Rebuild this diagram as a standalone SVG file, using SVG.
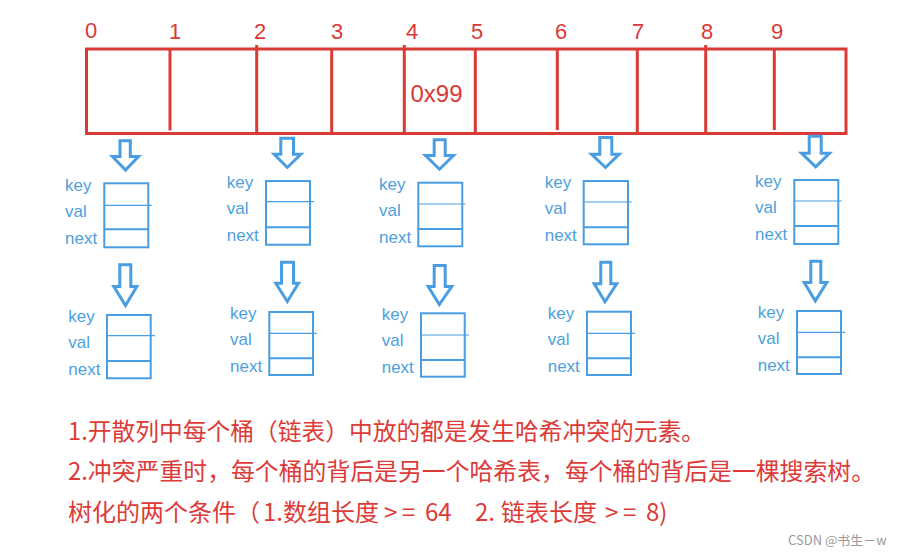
<svg xmlns="http://www.w3.org/2000/svg" width="921" height="557" viewBox="0 0 921 557">
<style>
  .red { fill: none; stroke: #d93a35; stroke-width: 3; }
  .idx { font-family: "Liberation Sans", "Noto Sans", sans-serif; font-size: 22px; fill: #d93a35; }
  .addr { font-family: "Liberation Sans", "Noto Sans", sans-serif; font-size: 24px; fill: #d93a35; }
  .arrow { fill: #fff; stroke: #4a9de0; stroke-width: 3; stroke-linejoin: miter; }
  .box { fill: #fff; stroke: #4a9de0; stroke-width: 2; }
  .thin { stroke: #4a9de0; stroke-width: 1.2; }
  .mid { stroke: #4a9de0; stroke-width: 2; }
  .lbl { font-family: "Liberation Sans", "Noto Sans", sans-serif; font-size: 17px; fill: #4e9fde; }
  .note { font-family: "Noto Sans CJK SC", "Liberation Sans", sans-serif; font-size: 24px; fill: #dc3b38; }
  .wm { font-family: "Noto Sans CJK SC", "Liberation Sans", sans-serif; font-size: 13px; fill: #9a9a9a; }
</style>

<g id="array">
  <rect class="red" x="86.5" y="49" width="759.5" height="84.5"/>
  <line class="red" x1="170" y1="49" x2="170" y2="130.5"/>
  <line class="red" x1="256.7" y1="45" x2="256.7" y2="133.5"/>
  <line class="red" x1="331.7" y1="49" x2="331.7" y2="133.5"/>
  <line class="red" x1="404.3" y1="45" x2="404.3" y2="133.5"/>
  <line class="red" x1="475.3" y1="49" x2="475.3" y2="133.5"/>
  <line class="red" x1="557.3" y1="49" x2="557.3" y2="130"/>
  <line class="red" x1="637.3" y1="49" x2="637.3" y2="133.5"/>
  <line class="red" x1="705.7" y1="45" x2="705.7" y2="133.5"/>
  <line class="red" x1="774.3" y1="49" x2="774.3" y2="130"/>
  <text class="idx" x="85" y="38">0</text>
  <text class="idx" x="169" y="38.5">1</text>
  <text class="idx" x="254" y="38.5">2</text>
  <text class="idx" x="331" y="38.5">3</text>
  <text class="idx" x="406" y="38.5">4</text>
  <text class="idx" x="471" y="38.5">5</text>
  <text class="idx" x="555" y="38.5">6</text>
  <text class="idx" x="632" y="38.5">7</text>
  <text class="idx" x="701" y="38.5">8</text>
  <text class="idx" x="771" y="38.5">9</text>
  <text class="addr" x="410.5" y="101.5">0x99</text>
</g>

<g id="connectors">
  <path class="arrow" d="M120,140.8 H130.3 V156.5 H138.5 L125.5,170 L112.5,156.5 H120 Z"/>
  <path class="arrow" d="M280.8,138.2 H293.5 V154.2 H300.8 L287.3,167.5 L274.2,154.2 H280.8 Z"/>
  <path class="arrow" d="M434.2,139.8 H445.2 V155.5 H453.5 L439.5,169.2 L425.5,155.5 H434.2 Z"/>
  <path class="arrow" d="M599.8,137.5 H611.8 V154.2 H619.2 L605.5,167.5 L591.5,154.2 H599.8 Z"/>
  <path class="arrow" d="M809.2,136.2 H821.2 V153.2 H829.5 L815.7,166.8 L801.5,153.2 H809.2 Z"/>
  <path class="arrow" d="M119.8,264.8 H130.8 V286.5 H136.8 L125.5,305.5 L113.8,286.5 H119.8 Z"/>
  <path class="arrow" d="M281.5,262.2 H293.5 V283.2 H298.5 L287.3,301.5 L275.8,283.2 H281.5 Z"/>
  <path class="arrow" d="M434.2,265.5 H445.2 V286.5 H451.8 L439.3,304.5 L428.2,286.5 H434.2 Z"/>
  <path class="arrow" d="M600.8,262.2 H610.8 V283.8 H616.8 L605,301.8 L594.2,283.8 H600.8 Z"/>
  <path class="arrow" d="M810.8,261.2 H820.8 V282.5 H826.8 L815.3,300.8 L804.2,282.5 H810.8 Z"/>
</g>

<g id="node-0a">
  <rect class="box" x="104.3" y="183.3" width="44" height="64"/>
  <line class="thin" x1="104.3" y1="205.3" x2="151.7" y2="205.3"/>
  <line class="mid" x1="104.3" y1="229.3" x2="148.3" y2="229.3"/>
  <text class="lbl" x="65" y="190.5">key</text>
  <text class="lbl" x="65" y="216.5">val</text>
  <text class="lbl" x="65" y="243.5">next</text>
</g>
<g id="node-2a">
  <rect class="box" x="266" y="181" width="44" height="63.7"/>
  <line class="thin" x1="266" y1="201.7" x2="314" y2="201.7"/>
  <line class="mid" x1="266" y1="227.3" x2="310" y2="227.3"/>
  <text class="lbl" x="226.7" y="188">key</text>
  <text class="lbl" x="226.7" y="214">val</text>
  <text class="lbl" x="226.7" y="241">next</text>
</g>
<g id="node-4a">
  <rect class="box" x="418.3" y="182.7" width="44" height="63.6"/>
  <line class="thin" x1="418.3" y1="204" x2="465.7" y2="204"/>
  <line class="mid" x1="418.3" y1="229" x2="462.3" y2="229"/>
  <text class="lbl" x="379" y="189.7">key</text>
  <text class="lbl" x="379" y="215.7">val</text>
  <text class="lbl" x="379" y="242.7">next</text>
</g>
<g id="node-6a">
  <rect class="box" x="583.7" y="181" width="44.3" height="63.3"/>
  <line class="thin" x1="583.7" y1="202" x2="631.7" y2="202"/>
  <line class="mid" x1="583.7" y1="227.3" x2="628" y2="227.3"/>
  <text class="lbl" x="544.7" y="188">key</text>
  <text class="lbl" x="544.7" y="214">val</text>
  <text class="lbl" x="544.7" y="241">next</text>
</g>
<g id="node-9a">
  <rect class="box" x="794.3" y="180" width="44" height="64"/>
  <line class="thin" x1="794.3" y1="201" x2="841.7" y2="201"/>
  <line class="mid" x1="794.3" y1="226" x2="838.3" y2="226"/>
  <text class="lbl" x="755" y="187">key</text>
  <text class="lbl" x="755" y="213">val</text>
  <text class="lbl" x="755" y="240">next</text>
</g>

<g id="node-0b">
  <rect class="box" x="107" y="315" width="43.7" height="63.3"/>
  <line class="thin" x1="107" y1="335.7" x2="155" y2="335.7"/>
  <line class="mid" x1="107" y1="361" x2="150.7" y2="361"/>
  <text class="lbl" x="68.3" y="322">key</text>
  <text class="lbl" x="68.3" y="348">val</text>
  <text class="lbl" x="68.3" y="375">next</text>
</g>
<g id="node-2b">
  <rect class="box" x="269.3" y="312" width="43.7" height="63"/>
  <line class="thin" x1="269.3" y1="333.3" x2="316.7" y2="333.3"/>
  <line class="mid" x1="269.3" y1="358.3" x2="313" y2="358.3"/>
  <text class="lbl" x="230" y="319">key</text>
  <text class="lbl" x="230" y="345">val</text>
  <text class="lbl" x="230" y="372">next</text>
</g>
<g id="node-4b">
  <rect class="box" x="421" y="313.3" width="43.7" height="63.4"/>
  <line class="thin" x1="421" y1="335" x2="469" y2="335"/>
  <line class="mid" x1="421" y1="360" x2="464.7" y2="360"/>
  <text class="lbl" x="381.7" y="320.3">key</text>
  <text class="lbl" x="381.7" y="346.3">val</text>
  <text class="lbl" x="381.7" y="373.3">next</text>
</g>
<g id="node-6b">
  <rect class="box" x="587" y="311.7" width="44" height="63.3"/>
  <line class="thin" x1="587" y1="333.3" x2="635" y2="333.3"/>
  <line class="mid" x1="587" y1="358.3" x2="631" y2="358.3"/>
  <text class="lbl" x="547.7" y="318.7">key</text>
  <text class="lbl" x="547.7" y="344.7">val</text>
  <text class="lbl" x="547.7" y="371.7">next</text>
</g>
<g id="node-9b">
  <rect class="box" x="797" y="311" width="44" height="63"/>
  <line class="thin" x1="797" y1="332.3" x2="845" y2="332.3"/>
  <line class="mid" x1="797" y1="357.3" x2="841" y2="357.3"/>
  <text class="lbl" x="757.7" y="318">key</text>
  <text class="lbl" x="757.7" y="344">val</text>
  <text class="lbl" x="757.7" y="371">next</text>
</g>

<g id="notes">
  <text class="note" x="68" y="440" textLength="637" lengthAdjust="spacingAndGlyphs">1.开散列中每个桶（链表）中放的都是发生哈希冲突的元素。</text>
  <text class="note" x="68" y="480" textLength="807" lengthAdjust="spacingAndGlyphs">2.冲突严重时，每个桶的背后是另一个哈希表，每个桶的背后是一棵搜索树。</text>
  <text class="note" y="521"><tspan x="68">树化的两个条件（</tspan><tspan x="263">1.数组长度</tspan><tspan x="384">&gt;</tspan><tspan x="402">=</tspan><tspan x="425">64</tspan><tspan x="475">2.</tspan><tspan x="501">链表长度</tspan><tspan x="605">&gt;</tspan><tspan x="623">=</tspan><tspan x="646">8)</tspan></text>
  <text class="wm" x="788" y="545">CSDN @书生－w</text>
</g>
</svg>
